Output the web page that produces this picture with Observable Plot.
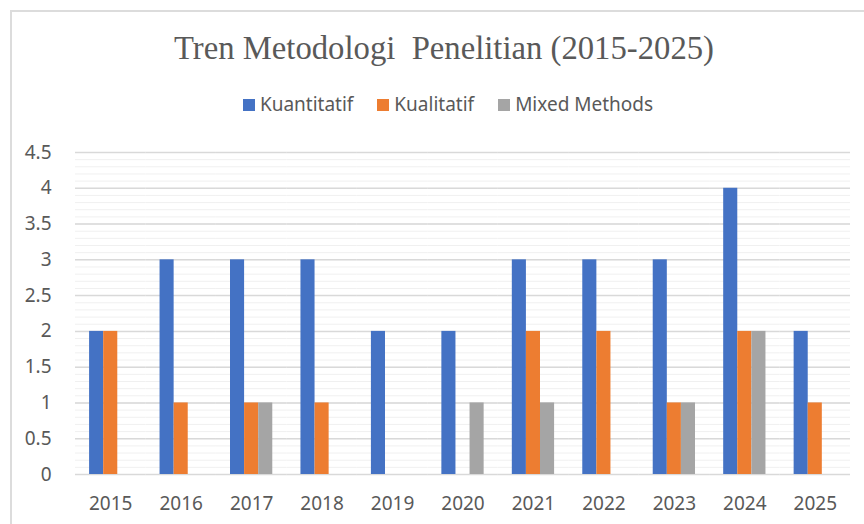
<!DOCTYPE html>
<html>
<head>
<meta charset="utf-8">
<script src="https://cdn.jsdelivr.net/npm/d3@7"></script>
<script src="https://cdn.jsdelivr.net/npm/@observablehq/plot@0.6"></script>
<style>
  html, body { margin: 0; padding: 0; background: #fff; width: 864px; height: 524px; overflow: hidden; position: relative; }
  #frame { position: absolute; left: 10px; top: 10px; width: 880px; height: 600px; border: 2px solid #dcdcdc; box-sizing: border-box; }
  #title { position: absolute; left: 0; width: 888px; top: 32px; text-align: center; font-family: "Liberation Serif", serif; font-size: 32.7px; line-height: 32px; color: #595959; white-space: pre; }
  #legend { position: absolute; left: 0; width: 896px; top: 95px; display: flex; justify-content: center; font-family: "Noto Sans", sans-serif; font-size: 19px; line-height: 19px; color: #595959; }
  .item { display: flex; align-items: center; margin: 0 12px; }
  .sw { width: 12px; height: 12px; margin-right: 5px; }
  #chart { position: absolute; left: 0; top: 130px; }
</style>
</head>
<body>
<div id="frame"></div>
<div id="title">Tren Metodologi  Penelitian (2015-2025)</div>
<div id="legend"></div>
<div id="chart"></div>
<script>
const years = ["2015","2016","2017","2018","2019","2020","2021","2022","2023","2024","2025"];
const series = ["Kuantitatif", "Kualitatif", "Mixed Methods"];
const kuantitatif = [2, 3, 3, 3, 2, 2, 3, 3, 3, 4, 2];
const kualitatif = [2, 1, 1, 1, 0, 0, 2, 2, 1, 2, 1];
const mixedMethods = [0, 0, 1, 0, 0, 1, 1, 0, 1, 2, 0];
const colors = ["#4472C4", "#ED7D31", "#A5A5A5"];
const yTicks = [0, 0.5, 1, 1.5, 2, 2.5, 3, 3.5, 4, 4.5];
const yMinor = d3.range(0, 46).map(i => i / 10);

const valuesBySeries = [kuantitatif, kualitatif, mixedMethods];
const table = [];
years.forEach((yr, i) => {
  series.forEach((s, j) => table.push({year: yr, series: s, value: valuesBySeries[j][i]}));
});

const legend = document.getElementById("legend");
series.forEach((s, j) => {
  const it = document.createElement("div");
  it.className = "item";
  const sw = document.createElement("span");
  sw.className = "sw";
  sw.style.background = colors[j];
  const tx = document.createElement("span");
  tx.textContent = s;
  it.appendChild(sw); it.appendChild(tx);
  legend.appendChild(it);
});

const chart = Plot.plot({
  width: 864,
  height: 394,
  marginTop: 22,
  marginBottom: 50,
  marginLeft: 75,
  marginRight: 14,
  style: {fontFamily: "Noto Sans", fontSize: "19px", color: "#595959", background: "transparent", overflow: "visible"},
  fx: {domain: years, padding: 0, round: false, label: null, axis: "bottom", tickSize: 0, tickPadding: 22},
  x: {domain: series, paddingInner: 0, paddingOuter: 1, round: false, axis: null},
  y: {domain: [0, 4.5], ticks: yTicks, tickFormat: d => String(d), tickSize: 0, tickPadding: 24, label: null},
  color: {domain: series, range: colors},
  marks: [
    Plot.ruleY(yMinor, {stroke: "#f0f0f0", strokeWidth: 1}),
    Plot.ruleY(yTicks, {stroke: "#d9d9d9", strokeWidth: 1.5}),
    Plot.barY(table, {fx: "year", x: "series", y: "value", fill: "series"})
  ]
});
document.getElementById("chart").appendChild(chart);
</script>
</body>
</html>
